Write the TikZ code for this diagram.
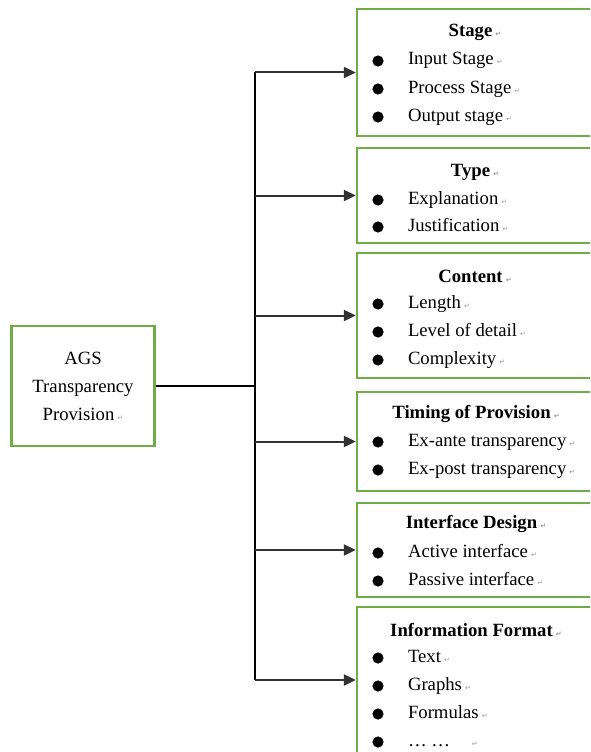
\documentclass[tikz,border=0pt]{standalone}
\usepackage{fontspec}
\setmainfont{Liberation Serif}
\newfontfamily\retfont{DejaVu Sans}
\usepackage{tikz}
\usetikzlibrary{arrows.meta}

\definecolor{boxgreen}{RGB}{112,173,71}
\definecolor{linegray}{RGB}{50,50,50}

% small return mark after each paragraph
\newcommand{\pmark}{\,{\retfont\fontsize{7}{7}\selectfont\color{black!40}↵}}
% one bulleted entry: name, y, text
\newcommand{\entry}[3]{%
  \fill (378,#2) circle (5.6pt);
  \node[entrytext] (#1) at (407,#2) {#3\pmark};}

\begin{document}
\begin{tikzpicture}[x=1pt, y=-1pt, line width=2pt,
  font=\fontsize{18.7}{28}\selectfont,
  rootbox/.style={draw=boxgreen, line width=2.3pt, fill=white, minimum width=143pt, minimum height=120pt, align=center, inner sep=0pt},
  catbox/.style={draw=boxgreen, line width=2.3pt, fill=white, minimum width=236pt, inner sep=0pt},
  titletext/.style={font=\fontsize{18.7}{28}\selectfont\bfseries, inner sep=0pt},
  entrytext/.style={anchor=west, inner sep=0pt, text height=12pt, text depth=4pt},
  branch/.style={draw=linegray, -{Triangle[length=12pt,width=11pt]}}]

\clip (0,0) rectangle (590,752);
\useasboundingbox (0,0) rectangle (590,752);

% draw root box
\node[rootbox] (ags) at (83,386) {AGS\\Transparency\\Provision\pmark};

% draw category boxes
\node[catbox, minimum height=127pt] (stage) at (475,72.5) {};
\node[catbox, minimum height=95pt] (type) at (475,195.5) {};
\node[catbox, minimum height=125pt] (content) at (475,315.5) {};
\node[catbox, minimum height=99pt] (timing) at (475,441.5) {};
\node[catbox, minimum height=94pt] (iface) at (475,550) {};
\node[catbox, minimum height=146pt] (info) at (475,680) {};

% draw trunk and branches
\coordinate (hub) at (255,386);
\draw[black] (ags.east) -- (hub);
\draw[black] (hub |- stage.west) -- (hub |- info.west);
\draw[branch] (hub |- stage.west) -- (stage.west);
\draw[branch] (hub |- type.west) -- (type.west);
\draw[branch] (hub |- content.west) -- (content.west);
\draw[branch] (hub |- timing.west) -- (timing.west);
\draw[branch] (hub |- iface.west) -- (iface.west);
\draw[branch] (hub |- info.west) -- (info.west);

% draw box texts
\node[titletext] (stagetitle) at (475,32) {Stage\pmark};
\entry{input}{61}{Input Stage}
\entry{process}{89}{Process Stage}
\entry{output}{117}{Output stage}

\node[titletext] (typetitle) at (475,172) {Type\pmark};
\entry{expl}{200}{Explanation}
\entry{just}{227}{Justification}

\node[titletext] (contenttitle) at (475,276) {Content\pmark};
\entry{length}{304}{Length}
\entry{detail}{332}{Level of detail}
\entry{complex}{360}{Complexity}

\node[titletext] (timingtitle) at (476,414) {Timing of Provision\pmark};
\entry{exante}{442}{Ex-ante transparency}
\entry{expost}{470}{Ex-post transparency}

\node[titletext] (ifacetitle) at (476,524) {Interface Design\pmark};
\entry{active}{553}{Active interface}
\entry{passive}{581}{Passive interface}

\node[titletext] (infotitle) at (476,630) {Information Format\pmark};
\entry{text}{658}{Text}
\entry{graphs}{686}{Graphs}
\entry{formulas}{714}{Formulas}
\entry{more}{742}{…\ …\quad}

\end{tikzpicture}
\end{document}
